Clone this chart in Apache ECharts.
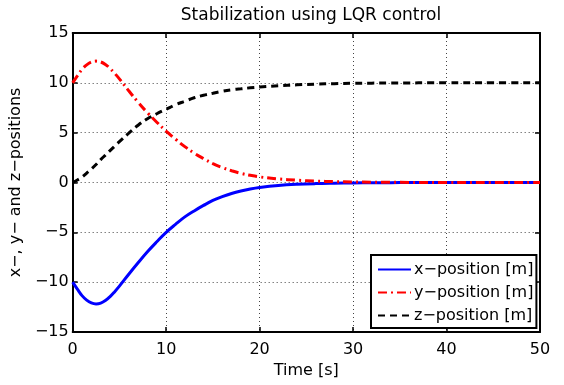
<!DOCTYPE html>
<html>
<head>
    <meta charset="utf-8">
    <script src="https://cdn.jsdelivr.net/npm/echarts@6/dist/echarts.min.js"></script>
</head>
<body style="margin:0">
<div id="main" style="width: 564px;height:385px;"></div>

<script type="text/javascript">
    // values
    var times = [0, 0.5, 1, 1.5, 2, 2.5, 3, 3.5, 4, 4.5, 5, 6, 7, 8, 9, 10, 11, 12, 13, 14, 15, 16, 17, 18, 19, 20, 22, 24, 26, 28, 30, 32, 34, 36, 38, 40, 45, 50];
    var xPos = [-10, -10.7, -11.35, -11.8, -12.08, -12.18, -12.1, -11.85, -11.45, -10.95, -10.4, -9.2, -8.05, -6.95, -5.95, -5.0, -4.2, -3.45, -2.85, -2.3, -1.8, -1.42, -1.1, -0.85, -0.65, -0.5, -0.3, -0.18, -0.11, -0.07, -0.04, -0.025, -0.015, -0.01, -0.005, 0, 0, 0];
    var yPos = [10, 10.7, 11.35, 11.8, 12.08, 12.18, 12.1, 11.85, 11.45, 10.95, 10.4, 9.2, 8.05, 7.0, 6.05, 5.15, 4.35, 3.6, 2.95, 2.4, 1.9, 1.5, 1.18, 0.92, 0.72, 0.56, 0.36, 0.23, 0.14, 0.09, 0.05, 0.03, 0.02, 0.01, 0.005, 0, 0, 0];
    var zPos = [0, 0.25, 0.55, 0.95, 1.35, 1.8, 2.3, 2.75, 3.2, 3.65, 4.1, 4.95, 5.75, 6.4, 6.9, 7.35, 7.8, 8.15, 8.5, 8.75, 8.95, 9.15, 9.3, 9.4, 9.5, 9.58, 9.7, 9.8, 9.87, 9.92, 9.95, 9.97, 9.98, 9.99, 10, 10, 10, 10];
    var seriesNames = ['x\u2212position [m]', 'y\u2212position [m]', 'z\u2212position [m]'];

    function pairs(vals) {
        return times.map(function (t, i) { return [t, vals[i]]; });
    }
    function minus(v) { return String(v).replace('-', '\u2212'); }

    var font = 'DejaVu Sans';
    var dom = document.getElementById("main");
    var myChart = echarts.init(dom);

    var gridLine = { show: true, lineStyle: { color: '#444', width: 1, type: [1, 3] } };
    var tickIn = { show: true, inside: true, length: 5, lineStyle: { color: '#000', width: 1.5 } };
    var axisLine = { show: true, onZero: false, lineStyle: { color: '#000', width: 2 } };

    var option = {
        animation: false,
        backgroundColor: '#fff',
        title: {
            text: 'Stabilization using LQR control',
            left: 306, top: 2, textAlign: 'center',
            textStyle: { fontFamily: font, fontSize: 17, fontWeight: 'normal', color: '#000' }
        },
        grid: { left: 71, right: 24, top: 33, bottom: 53 },
        legend: {
            orient: 'vertical',
            left: 371, top: 255,
            padding: [6, 3, 4, 6],
            itemGap: 6,
            itemWidth: 33, itemHeight: 17,
            backgroundColor: '#fff',
            borderColor: '#000', borderWidth: 2,
            itemStyle: { opacity: 0 },
            textStyle: { fontFamily: font, fontSize: 16, color: '#000', lineHeight: 17, padding: [0, 0, 0, -2] },
            data: seriesNames
        },
        xAxis: [{
            type: 'value', min: 0, max: 50, interval: 10,
            name: 'Time [s]', nameLocation: 'middle', nameGap: 29,
            nameTextStyle: { fontFamily: font, fontSize: 16, color: '#000' },
            axisLine: axisLine, axisTick: tickIn, splitLine: gridLine,
            axisLabel: { fontFamily: font, fontSize: 16, color: '#000', margin: 10, formatter: minus }
        }, {
            type: 'value', min: 0, max: 50, interval: 10, position: 'top',
            axisLine: axisLine, axisTick: tickIn, splitLine: { show: false },
            axisLabel: { show: false }
        }],
        yAxis: [{
            type: 'value', min: -15, max: 15, interval: 5,
            name: 'x\u2212, y\u2212 and z\u2212positions', nameLocation: 'middle', nameGap: 36,
            nameTextStyle: { fontFamily: font, fontSize: 16, color: '#000' },
            axisLine: axisLine, axisTick: tickIn, splitLine: gridLine,
            axisLabel: { fontFamily: font, fontSize: 16, color: '#000', margin: 4, formatter: minus }
        }, {
            type: 'value', min: -15, max: 15, interval: 5, position: 'right',
            axisLine: axisLine, axisTick: tickIn, splitLine: { show: false },
            axisLabel: { show: false }
        }],
        series: [{
            name: seriesNames[0], type: 'line', showSymbol: false, smooth: 0.4,
            lineStyle: { color: '#0000ff', width: 3 }, itemStyle: { color: '#0000ff' },
            data: pairs(xPos)
        }, {
            name: seriesNames[1], type: 'line', showSymbol: false, smooth: 0.4,
            lineStyle: { color: '#ff0000', width: 3, type: [9, 4, 2, 4] }, itemStyle: { color: '#ff0000' },
            data: pairs(yPos)
        }, {
            name: seriesNames[2], type: 'line', showSymbol: false, smooth: 0.4,
            lineStyle: { color: '#000', width: 3, type: [7, 5] }, itemStyle: { color: '#000' },
            data: pairs(zPos)
        }]
    };
    myChart.setOption(option, true);
</script>
</body>
</html>
